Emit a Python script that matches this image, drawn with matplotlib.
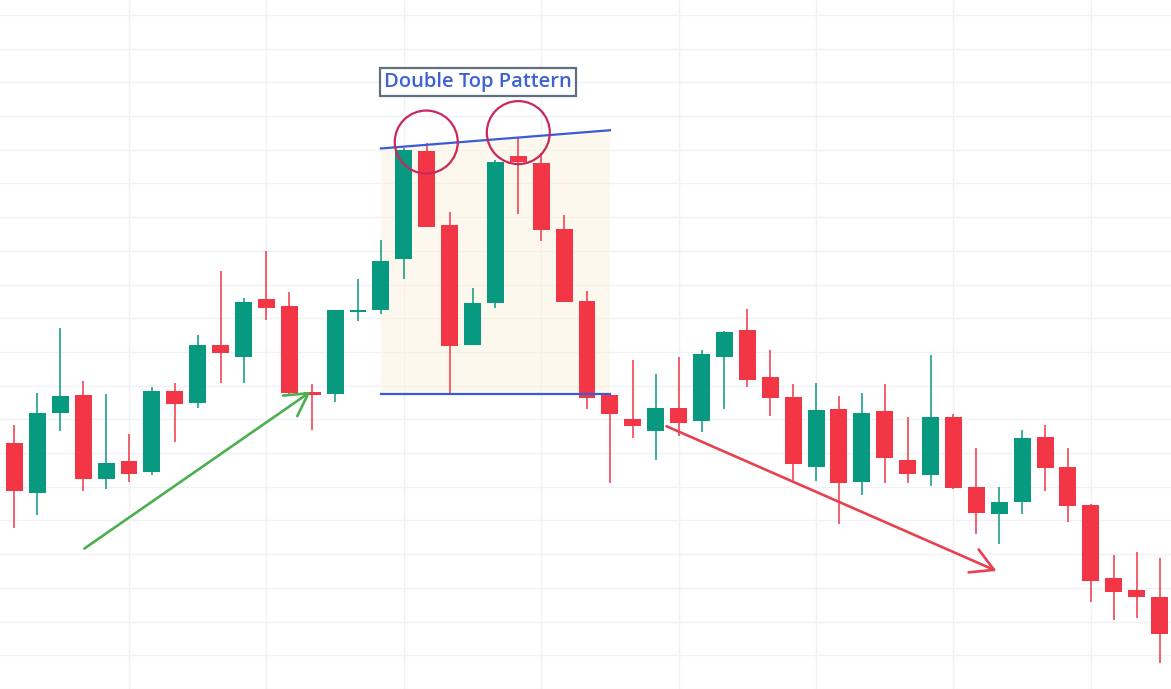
import numpy as np
import matplotlib.pyplot as plt
from matplotlib.patches import Ellipse, Polygon, FancyArrowPatch

# OHLC values (arbitrary price units, grid step = 1)
opens = [7.31, 5.82, 8.20, 8.72, 6.24, 6.77, 6.45, 8.84, 8.50, 10.21,
         9.86, 11.57, 11.36, 8.82, 8.76, 11.20, 11.26, 12.77, 15.96, 13.77,
         10.22, 11.46, 15.82, 15.61, 13.65, 11.51, 8.72, 8.01, 7.66, 8.34,
         7.96, 9.86, 10.65, 9.26, 8.66, 6.60, 8.31, 6.15, 8.25, 6.80,
         6.36, 8.07, 5.99, 5.20, 5.56, 7.48, 6.59, 5.47, 3.29, 2.94, 2.73]
highs = [7.83, 8.78, 10.70, 9.15, 8.75, 7.57, 8.96, 9.08, 10.50, 12.40,
         11.60, 13.00, 11.78, 9.06, 11.25, 12.17, 13.32, 16.04, 16.21, 14.15,
         11.90, 15.70, 16.39, 15.91, 14.07, 11.81, 8.72, 9.76, 9.35, 9.85,
         10.05, 10.62, 11.28, 10.06, 9.04, 9.08, 8.69, 8.78, 9.05, 8.07,
         9.91, 8.16, 7.15, 5.99, 7.69, 7.83, 7.15, 5.50, 3.98, 4.07, 3.89]
lows = [4.78, 5.16, 7.66, 5.88, 5.94, 6.15, 6.36, 7.34, 8.35, 9.09,
        9.09, 10.96, 8.73, 7.69, 8.53, 10.93, 11.14, 12.18, 13.72, 8.74,
        10.20, 11.31, 14.10, 13.29, 11.49, 8.32, 6.12, 7.46, 6.80, 7.52,
        7.64, 8.32, 8.97, 8.10, 6.18, 6.18, 4.89, 5.75, 6.10, 6.12,
        6.03, 5.94, 4.61, 4.31, 5.20, 5.88, 4.96, 2.59, 2.06, 2.12, 0.78]
closes = [5.88, 8.19, 8.69, 6.24, 6.71, 6.39, 8.84, 8.47, 10.21, 9.96,
          11.48, 11.31, 8.79, 8.73, 11.25, 11.22, 12.70, 15.99, 13.72, 10.19,
          11.45, 15.64, 15.64, 13.63, 11.49, 8.64, 8.15, 7.79, 8.34, 7.90,
          9.94, 10.59, 9.18, 8.64, 6.69, 8.28, 6.12, 8.19, 6.84, 6.39,
          8.07, 5.97, 5.23, 5.55, 7.45, 6.57, 5.44, 3.21, 2.89, 2.74, 1.64]

# pattern drawings (candle index, price)
top_line = [(16, 16.04), (26, 16.58)]
neckline = 8.74
peaks = [(17.98, 16.23), (22.0, 16.51)]
up_arrow = [(2.95, 4.12), (13.03, 8.87)]
down_arrow = [(28.36, 7.83), (42.99, 3.47)]

GREEN = '#089981'
RED = '#F23645'
BLUE = '#3A5BD9'

fig = plt.figure(figsize=(11.71, 6.89), dpi=100)
ax = fig.add_axes([0, 0, 1, 1])

idx = np.arange(len(opens))
o = np.array(opens); h = np.array(highs); l = np.array(lows); c = np.array(closes)
colors = [GREEN if cc >= oo else RED for oo, cc in zip(o, c)]

# grid
for gy in range(0, 21):
    ax.axhline(gy, color='#F0F1F4', lw=1.0, zorder=0)
for gx in range(5, len(opens), 6):
    ax.axvline(gx, color='#F0F1F4', lw=1.0, zorder=0)

# shaded pattern zone
zone = Polygon([(top_line[0][0], neckline), top_line[0], top_line[1],
                (top_line[1][0], neckline)], closed=True,
               facecolor='#FCF2DC', alpha=0.5, edgecolor='none', zorder=1)
ax.add_patch(zone)

# candles
ax.vlines(idx, l, h, colors=colors, lw=1.1, zorder=2)
body = np.maximum(np.abs(c - o), 0.04)
ax.bar(idx, body, bottom=np.minimum(o, c), width=0.74, color=colors, zorder=3)

# pattern lines
ax.plot([p[0] for p in top_line], [p[1] for p in top_line], color=BLUE, lw=1.6, zorder=4)
ax.plot([top_line[0][0], top_line[1][0]], [neckline, neckline], color=BLUE, lw=1.6, zorder=4)

# circles around the two tops (31.5 px radius)
for px, py in peaks:
    ax.add_patch(Ellipse((px, py), 63 / 22.9, 63 / 33.7, fill=False,
                         edgecolor='#C8285C', lw=1.6, zorder=5))

ax.text(20.24, 18.01, 'Double Top Pattern', family=['Open Sans', 'DejaVu Sans'],
        fontsize=14.5, fontweight='semibold', color='#3D62D4', ha='center', va='center',
        bbox=dict(boxstyle='square,pad=0.22', facecolor='white', edgecolor='#5F6F7F', lw=1.6),
        zorder=6)

# trend arrows
for (start, end), col in [(up_arrow, '#4CAF50'), (down_arrow, '#E8404F')]:
    ax.add_patch(FancyArrowPatch(start, end, arrowstyle='->,head_length=0.8,head_width=0.45',
                                 mutation_scale=20, color=col, lw=1.9, zorder=5))

ax.set_xlim(-0.633, 50.5)
ax.set_ylim(0, 20.445)
ax.axis('off')

fig.savefig('out.png', dpi=100, facecolor='white')
